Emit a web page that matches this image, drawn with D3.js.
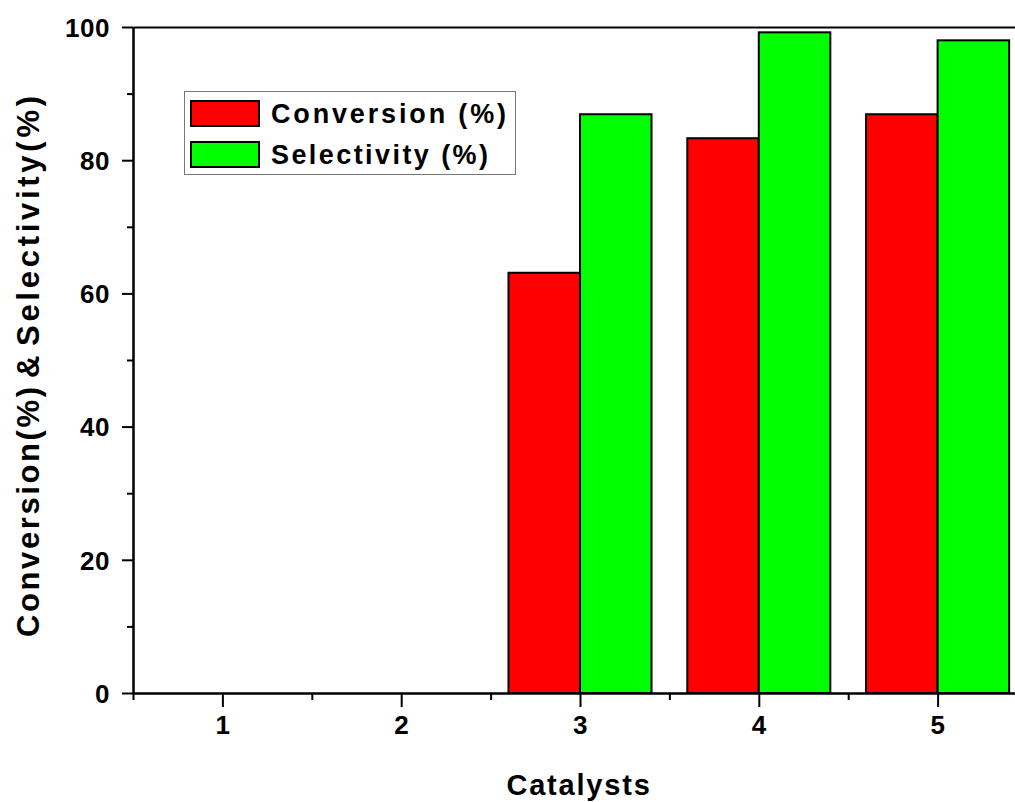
<!DOCTYPE html>
<html><head><meta charset="utf-8">
<script src="https://cdn.jsdelivr.net/npm/d3@7"></script>
<style>
html,body{margin:0;padding:0;background:#fff;overflow:hidden}
text{font-family:"Liberation Sans",Arial,sans-serif;font-weight:bold;fill:#000}
</style></head>
<body>
<svg id="chart" width="1015" height="802"></svg>
<script>
const categories = [1, 2, 3, 4, 5];
const conversion = [0, 0, 63.1, 83.3, 86.9];
const selectivity = [0, 0, 86.9, 99.2, 98.0];
const yTicks = [0, 20, 40, 60, 80, 100];
const yMinorTicks = [10, 30, 50, 70, 90];
const xMinorTicks = [0.5, 1.5, 2.5, 3.5, 4.5, 5.5];
const seriesNames = ["Conversion (%)", "Selectivity (%)"];
const seriesColors = ["#ff0000", "#00ff00"];
const xTitle = "Catalysts";
const yTitleParts = ["Conversion(%)", "&", "Selectivity(%)"];

const svg = d3.select("#chart");
const x = d3.scaleLinear().domain([0.5, 5.5]).range([133, 1027]);
const y = d3.scaleLinear().domain([0, 100]).range([693, 27]);
const barW = x(0.4) - x(0);

// bars
const series = [conversion, selectivity];
series.forEach((vals, si) => {
  svg.append("g").selectAll("rect").data(categories.map((c, i) => ({c, v: vals[i]})).filter(d => d.v > 0))
    .join("rect")
    .attr("x", d => si === 0 ? x(d.c) - barW : x(d.c))
    .attr("y", d => y(d.v))
    .attr("width", barW)
    .attr("height", d => y(0) - y(d.v))
    .attr("fill", seriesColors[si])
    .attr("stroke", "#000")
    .attr("stroke-width", 2);
});

// y axis
const yAxis = svg.append("g").attr("transform", `translate(${x(0.5)},0)`)
  .call(d3.axisLeft(y).tickValues(yTicks).tickSize(11).tickSizeOuter(0).tickPadding(12));
svg.append("g").attr("transform", `translate(${x(0.5)},0)`)
  .call(d3.axisLeft(y).tickValues(yMinorTicks).tickSize(6).tickSizeOuter(0).tickFormat(""));
// x axis
const xAxis = svg.append("g").attr("transform", `translate(0,${y(0)})`)
  .call(d3.axisBottom(x).tickValues(categories).tickSize(14).tickSizeOuter(0).tickPadding(9).tickFormat(d3.format("d")));
svg.append("g").attr("transform", `translate(0,${y(0)})`)
  .call(d3.axisBottom(x).tickValues(xMinorTicks).tickSize(7).tickSizeOuter(0).tickFormat(""));
// top spine
svg.append("g").attr("transform", `translate(0,${y(100)})`)
  .call(d3.axisTop(x).tickValues([]).tickSizeOuter(0));

svg.selectAll(".domain, .tick line").attr("stroke", "#000").attr("stroke-width", 2);
svg.selectAll(".tick text").style("font-size", "26px").attr("letter-spacing", "0.5px");
yAxis.selectAll(".tick text").attr("dy", "0.36em");

// axis titles
svg.append("text").attr("x", 579).attr("y", 795).attr("text-anchor", "middle")
  .style("font-size", "29px").attr("letter-spacing", "1.8px").text(xTitle);

const yt = svg.append("text").attr("transform", "translate(39,0) rotate(-90)").style("font-size", "31px");
const partPos = [-637, -378, -346];
const partLen = [250, null, 250];
yTitleParts.forEach((p, i) => {
  const t = yt.append("tspan").attr("x", partPos[i]).attr("y", 0).text(p);
  if (partLen[i]) t.attr("textLength", partLen[i]).attr("lengthAdjust", "spacing");
});

// legend
const lg = svg.append("g");
lg.append("rect").attr("x", 184.5).attr("y", 91.5).attr("width", 331).attr("height", 83)
  .attr("fill", "#fff").attr("stroke", "#777").attr("stroke-width", 1);
const legendSpans = [235, 217];
seriesNames.forEach((n, i) => {
  lg.append("rect").attr("x", 191).attr("y", 101 + i * 41).attr("width", 68).attr("height", 25)
    .attr("fill", seriesColors[i]).attr("stroke", "#000").attr("stroke-width", 2);
  lg.append("text").attr("x", 271).attr("y", 123 + i * 41)
    .style("font-size", "27px").attr("textLength", legendSpans[i]).attr("lengthAdjust", "spacing").text(n);
});
</script>
</body></html>
